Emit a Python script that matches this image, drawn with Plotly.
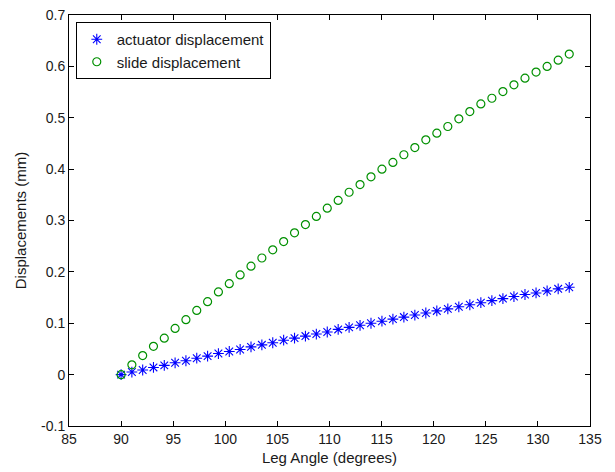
import plotly.graph_objects as go

leg_angle = [90.0, 91.035, 92.071, 93.107, 94.144, 95.182, 96.221, 97.260, 98.300,
             99.340, 100.382, 101.424, 102.466, 103.510, 104.554, 105.599, 106.644,
             107.690, 108.737, 109.785, 110.833, 111.882, 112.932, 113.982, 115.033,
             116.085, 117.138, 118.191, 119.245, 120.299, 121.355, 122.411, 123.467,
             124.525, 125.583, 126.642, 127.701, 128.761, 129.822, 130.884, 131.946,
             133.009]
actuator_disp = [0.000, 0.005, 0.009, 0.014, 0.018, 0.023, 0.027, 0.032, 0.036, 0.041,
                 0.045, 0.049, 0.054, 0.058, 0.062, 0.067, 0.071, 0.075, 0.079, 0.083,
                 0.088, 0.092, 0.096, 0.100, 0.104, 0.108, 0.112, 0.116, 0.120, 0.124,
                 0.128, 0.132, 0.136, 0.140, 0.144, 0.148, 0.152, 0.156, 0.159, 0.163,
                 0.167, 0.170]
slide_disp = [0.000, 0.019, 0.037, 0.055, 0.071, 0.090, 0.107, 0.125, 0.142, 0.161,
              0.177, 0.194, 0.211, 0.227, 0.243, 0.259, 0.276, 0.292, 0.308, 0.324,
              0.339, 0.355, 0.370, 0.385, 0.400, 0.413, 0.428, 0.442, 0.457, 0.470,
              0.483, 0.498, 0.512, 0.527, 0.538, 0.551, 0.564, 0.577, 0.589, 0.600,
              0.612, 0.624]

x_ticks = [85, 90, 95, 100, 105, 110, 115, 120, 125, 130, 135]
y_ticks = [-0.1, 0, 0.1, 0.2, 0.3, 0.4, 0.5, 0.6, 0.7]
y_tick_labels = ["-0.1", "0", "0.1", "0.2", "0.3", "0.4", "0.5", "0.6", "0.7"]

font_family = "Liberation Sans, Arial, sans-serif"
text_color = "#1a1a1a"

fig = go.Figure()
fig.add_trace(go.Scatter(
    x=leg_angle, y=actuator_disp, mode="markers", name="actuator displacement",
    marker=dict(symbol="asterisk-open", size=9, color="#0000ff",
                line=dict(color="#0000ff", width=1.1)),
))
fig.add_trace(go.Scatter(
    x=leg_angle, y=slide_disp, mode="markers", name="slide displacement",
    marker=dict(symbol="circle-open", size=8, color="#009000",
                line=dict(color="#009000", width=1.2)),
))

axis_common = dict(
    showgrid=False, zeroline=False, showline=True, linecolor="black", linewidth=1,
    mirror="ticks", ticks="inside", ticklen=5, tickcolor="black",
    tickfont=dict(family=font_family, size=14, color=text_color),
    automargin=False,
)

fig.update_layout(
    width=615, height=472,
    margin=dict(l=69, r=25, t=15, b=46),
    paper_bgcolor="white", plot_bgcolor="white",
    font=dict(family=font_family, size=14, color=text_color),
    xaxis=dict(range=[85, 135], tickvals=x_ticks,
               title=dict(text="Leg Angle (degrees)", standoff=6,
                          font=dict(family=font_family, size=15, color=text_color)),
               **axis_common),
    yaxis=dict(range=[-0.1, 0.7], tickvals=y_ticks, ticktext=y_tick_labels,
               title=dict(text="Displacements (mm)", standoff=10,
                          font=dict(family=font_family, size=15, color=text_color)),
               **axis_common),
    legend=dict(x=0.013, y=0.983, xanchor="left", yanchor="top",
                bgcolor="white", bordercolor="black", borderwidth=1,
                font=dict(family=font_family, size=15, color=text_color),
                itemwidth=30, tracegroupgap=0),
    showlegend=True,
)

fig.write_html("out.html",
               config={"displayModeBar": False},
               post_script="document.body.style.margin='0px';document.body.style.overflow='hidden';")
